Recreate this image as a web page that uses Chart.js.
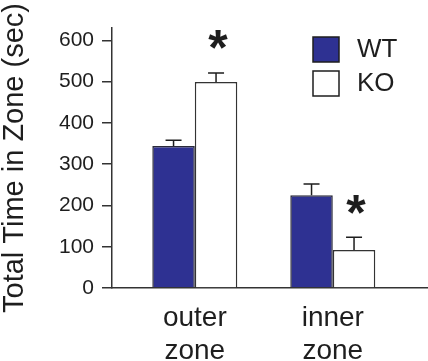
<!DOCTYPE html>
<html>
<head>
<meta charset="utf-8">
<script src="https://cdn.jsdelivr.net/npm/chart.js@4.4.1/dist/chart.umd.min.js"></script>
<style>
  html, body { margin: 0; padding: 0; background: #fff; }
  #wrap { width: 428px; height: 361px; }
</style>
</head>
<body>
<div id="wrap"><canvas id="zone-chart"></canvas></div>
<script>
const categories = ['outer zone', 'inner zone'];
const wtValues = [344, 225];
const wtErrors = [14, 27];
const koValues = [499, 92];
const koErrors = [22, 31];
const koStars = ['*', '*'];
const yTicks = [0, 100, 200, 300, 400, 500, 600];

const FONT = "'Liberation Sans', Arial, Helvetica, sans-serif";
const INK = '#1e1e1e';

// error bars (upper only) and significance stars
const errorBarPlugin = {
    id: 'errorBars',
    afterDatasetsDraw(chart) {
        const ctx = chart.ctx;
        const yScale = chart.scales.y;
        chart.data.datasets.forEach((ds, d) => {
            const meta = chart.getDatasetMeta(d);
            meta.data.forEach((bar, i) => {
                const top = yScale.getPixelForValue(ds.values[i] + ds.errors[i]);
                ctx.save();
                ctx.strokeStyle = INK;
                ctx.lineWidth = 1.5;
                ctx.beginPath();
                ctx.moveTo(bar.x, bar.y);
                ctx.lineTo(bar.x, top);
                ctx.moveTo(bar.x - 8, top);
                ctx.lineTo(bar.x + 8, top);
                ctx.stroke();
                if (ds.stars && ds.stars[i]) {
                    ctx.font = 'bold 50px ' + FONT;
                    ctx.fillStyle = INK;
                    ctx.textAlign = 'center';
                    ctx.textBaseline = 'alphabetic';
                    const m = ctx.measureText(ds.stars[i]);
                    const mid = (m.actualBoundingBoxAscent - m.actualBoundingBoxDescent) / 2;
                    ctx.fillText(ds.stars[i], bar.x + 2, top - 33 + mid);
                }
                ctx.restore();
            });
        });
    }
};

// legend with boxes in the top right
const boxLegendPlugin = {
    id: 'boxLegend',
    afterDraw(chart) {
        const ctx = chart.ctx;
        ctx.save();
        chart.data.datasets.forEach((ds, d) => {
            const x = 313, y = 37 + d * 34;
            ctx.fillStyle = ds.backgroundColor;
            ctx.fillRect(x, y, 26, 25);
            ctx.strokeStyle = INK;
            ctx.lineWidth = 1.5;
            ctx.strokeRect(x, y, 26, 25);
            ctx.fillStyle = INK;
            ctx.font = '26px ' + FONT;
            ctx.textAlign = 'left';
            ctx.textBaseline = 'middle';
            ctx.fillText(ds.label, 357, y + 13);
        });
        ctx.restore();
    }
};

const ctx = document.getElementById('zone-chart').getContext('2d');
new Chart(ctx, {
    type: 'bar',
    data: {
        datasets: [{
            label: 'WT',
            data: wtValues.map((v, i) => ({ x: i + 1, y: v })),
            values: wtValues,
            errors: wtErrors,
            backgroundColor: '#2e3192',
            borderColor: '#2a2a3a',
            borderWidth: 1.5
        }, {
            label: 'KO',
            data: koValues.map((v, i) => ({ x: i + 1, y: v })),
            values: koValues,
            errors: koErrors,
            stars: koStars,
            backgroundColor: '#ffffff',
            borderColor: '#333',
            borderWidth: 1.5
        }]
    },
    options: {
        responsive: true,
        maintainAspectRatio: false,
        animation: false,
        categoryPercentage: 0.616,
        barPercentage: 1,
        layout: { padding: { top: 28, left: 0, right: 0, bottom: 0 } },
        plugins: {
            legend: { display: false },
            tooltip: { enabled: false }
        },
        scales: {
            x: {
                type: 'linear',
                min: 0.4,
                max: 2.69,
                offset: false,
                afterBuildTicks: scale => {
                    scale.ticks = categories.map((c, i) => ({ value: i + 1 }));
                },
                afterFit: scale => { scale.height = 73; },
                grid: { display: false, drawTicks: false, offset: false },
                border: { display: true, color: '#333', width: 1.5 },
                ticks: {
                    padding: 14,
                    color: INK,
                    font: { family: FONT, size: 28, lineHeight: 1.18 },
                    maxRotation: 0,
                    callback: value => categories[value - 1] ? categories[value - 1].split(' ') : ''
                }
            },
            y: {
                min: 0,
                max: 630,
                afterBuildTicks: scale => {
                    scale.ticks = yTicks.map(v => ({ value: v }));
                },
                afterFit: scale => { scale.width = 112; },
                grid: { display: true, drawOnChartArea: false, drawTicks: true, tickLength: 10, color: '#333', lineWidth: 1.5 },
                border: { display: true, color: '#333', width: 1.5 },
                ticks: {
                    padding: 8,
                    color: INK,
                    font: { family: FONT, size: 21 }
                },
                title: {
                    display: true,
                    text: 'Total Time in Zone (sec)',
                    color: INK,
                    padding: 0,
                    font: { family: FONT, size: 29, lineHeight: 1 }
                }
            }
        }
    },
    plugins: [errorBarPlugin, boxLegendPlugin]
});
</script>
</body>
</html>
